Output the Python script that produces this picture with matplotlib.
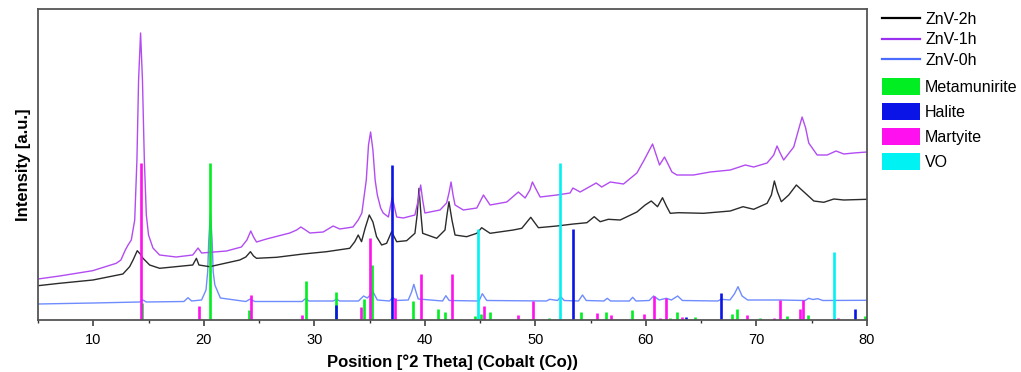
import matplotlib.pyplot as plt
from matplotlib.lines import Line2D
from matplotlib.patches import Patch

plt.rcParams['font.family'] = ['Liberation Sans', 'DejaVu Sans']

# ---- measured patterns (2theta, intensity a.u. incl. offset) ----
x_2h = [5.0, 6.95, 9.97, 12.68, 13.29, 13.6, 13.98, 14.25, 14.5, 15.1, 16.0, 19.0, 19.33, 19.56,
        20.53, 23.25, 23.8, 24.22, 24.5, 24.77, 26.58, 28.99, 31.1, 33.2, 33.66, 33.97, 34.27,
        34.6, 34.97, 35.3, 35.63, 36.09, 36.54, 36.99, 37.45, 38.35, 39.1, 39.3, 39.47, 39.65,
        39.8, 41.07, 41.82, 42.0, 42.18, 42.45, 42.73, 43.78, 44.7, 45.14, 45.9, 48.0, 48.77,
        49.58, 50.27, 51.94, 53.44, 54.66, 55.32, 55.86, 56.6, 57.67, 59.18, 59.93, 60.48,
        61.05, 61.5, 61.85, 62.2, 62.95, 65.2, 67.63, 68.78, 69.75, 70.96, 71.35, 71.62, 71.9,
        72.25, 72.92, 73.61, 74.0, 74.43, 75.19, 76.09, 77.0, 77.9, 80.0]
y_2h = [34.3, 36.7, 40.0, 46.0, 53.3, 60.0, 69.3, 66.0, 61.7, 55.0, 51.7, 55.0, 61.7, 55.0,
        53.3, 60.0, 63.0, 68.3, 64.0, 61.7, 62.7, 66.0, 68.3, 71.7, 78.3, 85.0, 78.3,
        92.0, 105.0, 98.0, 83.3, 75.0, 76.7, 88.3, 78.3, 79.3, 86.7, 105.0, 131.7, 105.0,
        86.7, 81.7, 90.0, 105.0, 118.3, 100.0, 85.0, 83.3, 86.7, 92.3, 86.7, 90.0, 91.7,
        102.7, 92.3, 94.0, 96.0, 97.3, 103.3, 98.3, 100.7, 100.0, 108.0, 115.0, 119.0,
        113.3, 122.3, 114.0, 106.7, 107.3, 106.7, 109.0, 113.3, 110.7, 116.7, 125.0, 139.0, 128.0,
        118.3, 125.0, 135.0, 131.0, 126.7, 119.0, 117.7, 121.0, 120.0, 120.7]

x_1h = [5.0, 6.95, 9.94, 12.08, 12.5, 12.9, 13.15, 13.44, 13.75, 13.95, 14.1, 14.28, 14.45,
        14.62, 14.8, 15.0, 15.4, 16.0, 17.5, 19.0, 19.48, 19.8, 22.05, 23.4, 23.9, 24.25, 24.5,
        24.77, 25.67, 27.78, 28.4, 28.78, 29.2, 29.6, 30.8, 31.7, 32.3, 33.5, 33.97, 34.3, 34.7,
        34.9, 35.09, 35.3, 35.5, 35.7, 36.0, 36.23, 36.7, 37.05, 37.45, 38.05, 39.1, 39.4,
        39.62, 39.8, 40.0, 41.37, 41.97, 42.2, 42.37, 42.55, 42.73, 43.48, 44.7, 45.3, 45.9,
        47.41, 48.46, 49.07, 49.5, 49.73, 50.0, 50.43, 51.94, 53.14, 53.39, 54.05, 55.5, 56.0,
        56.77, 57.97, 59.18, 59.84, 60.6, 61.23, 61.68, 62.0, 62.35, 62.8, 64.3, 65.82, 67.63,
        68.99, 69.75, 70.96, 71.56, 71.86, 72.1, 72.46, 73.37, 73.8, 74.13, 74.45, 74.73,
        75.49, 76.4, 77.2, 77.9, 78.8, 80.0]
y_1h = [41.0, 44.0, 49.3, 56.7, 60.0, 70.0, 75.0, 80.0, 100.0, 160.0, 240.0, 287.0, 240.0,
        160.0, 105.0, 85.0, 72.0, 65.0, 63.0, 65.0, 72.0, 67.0, 69.0, 73.0, 80.0, 89.0, 83.0,
        78.0, 81.0, 87.0, 90.0, 93.0, 90.0, 87.0, 88.0, 94.0, 91.0, 93.0, 100.0, 107.0, 140.0,
        175.0, 188.0, 170.0, 140.0, 125.0, 112.0, 107.0, 103.0, 123.0, 103.0, 102.0, 105.0, 120.0,
        135.0, 120.0, 107.0, 110.0, 117.0, 128.0, 138.0, 125.0, 115.0, 110.0, 112.0, 125.0, 115.0,
        118.0, 128.0, 122.0, 130.0, 138.0, 132.0, 123.0, 125.0, 127.0, 132.0, 128.0, 137.0, 133.0,
        138.0, 136.0, 147.0, 160.0, 176.0, 155.0, 163.0, 156.0, 148.0, 145.0, 145.0, 148.0, 150.0,
        155.0, 153.0, 157.0, 165.0, 174.0, 168.0, 160.0, 173.0, 190.0, 203.0, 192.0, 177.0,
        165.0, 165.0, 169.0, 166.0, 167.0, 168.0]

x_0h = [5.0, 10.0, 14.2, 14.5, 14.8, 18.2, 18.57, 18.9, 19.8, 20.2, 20.35, 20.45, 20.6, 20.75,
        20.85, 21.0, 21.5, 23.8, 24.2, 24.6, 28.9, 29.23, 29.5, 31.7, 32.0, 32.3, 34.0, 34.45,
        34.8, 35.3, 35.7, 36.8, 37.1, 37.4, 38.5, 38.8, 39.0, 39.2, 39.4, 41.6, 41.9, 42.2, 44.9,
        45.2, 45.6, 51.0, 51.3, 52.0, 52.3, 52.6, 53.9, 54.26, 54.6, 56.2, 56.5, 56.8, 58.5,
        58.8, 59.1, 60.3, 60.69, 61.2, 61.84, 62.3, 62.87, 63.3, 66.5, 66.8, 67.6, 68.0, 68.33,
        68.7, 69.2, 72.16, 74.4, 74.73, 75.1, 75.54, 76.0, 80.0]
y_0h = [16.0, 17.0, 18.0, 20.0, 18.0, 18.5, 22.3, 19.0, 20.0, 30.0, 48.0, 80.0, 107.0, 80.0,
        48.0, 35.0, 22.0, 18.5, 21.0, 18.5, 18.5, 21.7, 19.0, 19.0, 20.7, 19.0, 19.0, 24.0,
        22.0, 28.3, 20.0, 19.0, 22.7, 19.5, 20.0, 28.0, 35.7, 28.0, 21.0, 19.0, 24.3, 19.5, 19.0,
        26.3, 19.5, 19.0, 20.7, 19.5, 23.3, 19.5, 19.0, 25.0, 19.5, 19.0, 21.7, 19.0, 19.0,
        22.7, 19.0, 19.5, 24.0, 20.0, 21.7, 20.0, 24.0, 19.5, 19.0, 20.7, 20.0, 26.0, 33.3,
        24.0, 20.0, 20.0, 19.5, 21.7, 20.5, 21.3, 19.5, 19.7]

# ---- reference patterns (stick positions / heights) ----
metamunirite_pos = [14.44, 20.53, 24.07, 29.23, 31.95, 34.48, 35.24, 38.95, 41.2, 41.82, 44.54,
                    45.08, 45.87, 51.27, 54.14, 56.4, 58.73, 62.2, 62.84, 64.4, 67.75, 68.27,
                    70.35, 72.77, 74.7, 79.83]
metamunirite_int = [17, 157, 10, 39, 28, 21, 55, 19, 11, 8, 4, 6, 8, 2, 8, 8, 10, 2, 8, 3, 6, 11,
                    2, 4, 5, 4]

martyite_pos = [14.28, 19.54, 24.31, 28.84, 34.2, 35.06, 37.26, 39.67, 42.42, 45.35, 48.46, 49.82,
                55.56, 56.8, 59.78, 60.69, 61.3, 61.84, 63.29, 69.11, 71.56, 72.1, 73.95, 74.22,
                77.35]
martyite_int = [157, 14, 25, 5, 13, 82, 22, 46, 46, 14, 5, 19, 7, 5, 6, 24, 2, 22, 3, 5, 2, 20,
                11, 20, 2]

vo_pos = [44.84, 52.27, 77.05]
vo_int = [91, 157, 68]

halite_pos = [31.95, 37.02, 53.41, 63.6, 66.79, 78.95]
halite_int = [15, 155, 91, 3, 27, 11]

c_2h, c_1h, c_0h = '#2b2b2b', '#b24cf2', '#6f8cff'
c_meta, c_hal, c_mart, c_vo = '#00ee22', '#0a14e6', '#ff10ee', '#00f2f2'

fig = plt.figure(figsize=(10.21, 3.72), dpi=100)
ax = fig.add_axes([38 / 1021, 52 / 372, 829 / 1021, 311 / 372])

ax.plot(x_0h, y_0h, color=c_0h, lw=1.0)
ax.plot(x_2h, y_2h, color=c_2h, lw=1.0)
ax.plot(x_1h, y_1h, color=c_1h, lw=1.0)

stick_lw = 1.9
ax.vlines(metamunirite_pos, 0, metamunirite_int, colors=c_meta, lw=stick_lw)
ax.vlines(martyite_pos, 0, martyite_int, colors=c_mart, lw=stick_lw)
ax.vlines(vo_pos, 0, vo_int, colors=c_vo, lw=stick_lw)
ax.vlines(halite_pos, 0, halite_int, colors=c_hal, lw=stick_lw)

ax.set_xlim(5, 80)
ax.set_ylim(0, 311)
ax.set_yticks([])
ax.set_xticks(range(10, 81, 10))
ax.set_xticks(range(5, 81, 5), minor=True)
ax.tick_params(axis='x', which='major', length=4, width=1.1, direction='out', labelsize=10.5,
               pad=5, color='#333333')
ax.tick_params(axis='x', which='minor', length=2.5, width=1.0, direction='out', color='#333333')
for s in ax.spines.values():
    s.set_color('#555555')
    s.set_linewidth(1.3)

ax.set_xlabel('Position [°2 Theta] (Cobalt (Co))', fontsize=12, fontweight='bold', labelpad=6)
ax.set_ylabel('Intensity [a.u.]', fontsize=12, fontweight='bold', labelpad=5)

line_handles = [Line2D([], [], color='black', lw=1.6),
                Line2D([], [], color='#9a30f0', lw=1.6),
                Line2D([], [], color='#4a6cff', lw=1.6)]
fig.legend(line_handles, ['ZnV-2h', 'ZnV-1h', 'ZnV-0h'], loc='upper left',
           bbox_to_anchor=(882 / 1021, 1 - 12 / 372), frameon=False, fontsize=11.5,
           handlelength=2.4, handletextpad=0.3, labelspacing=0.34, borderpad=0,
           borderaxespad=0)

patch_handles = [Patch(facecolor=c, edgecolor='none') for c in (c_meta, c_hal, c_mart, c_vo)]
fig.legend(patch_handles, ['Metamunirite', 'Halite', 'Martyite', 'VO'], loc='upper left',
           bbox_to_anchor=(882 / 1021, 1 - 78 / 372), frameon=False, fontsize=11.5,
           handlelength=2.4, handleheight=1.3, handletextpad=0.3, labelspacing=0.47,
           borderpad=0, borderaxespad=0)

plt.savefig('out.png', dpi=100)
